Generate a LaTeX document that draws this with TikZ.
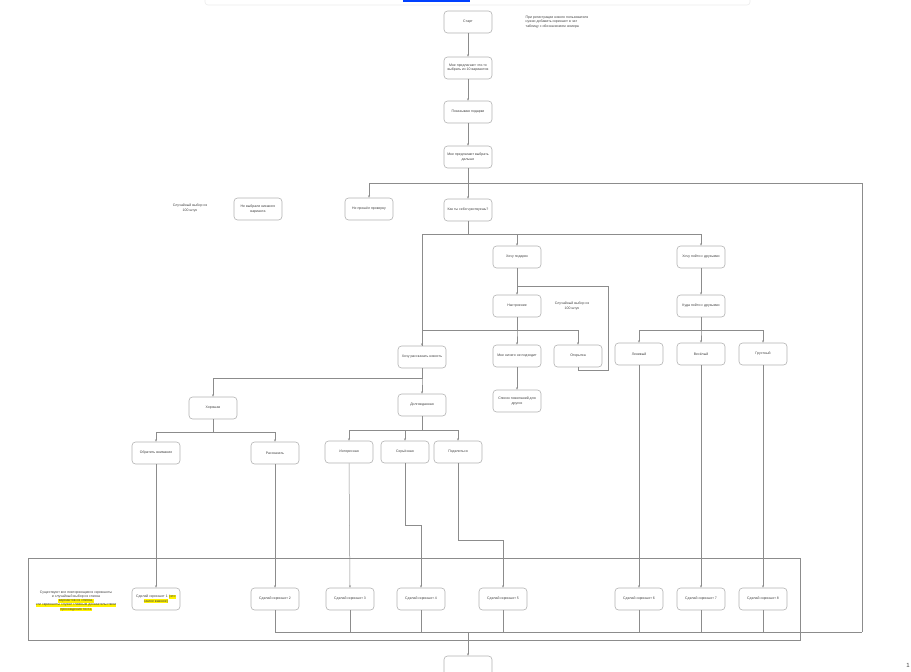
\documentclass[tikz,border=0pt]{standalone}
\usepackage{fontspec}
\setmainfont{Liberation Sans}
\usetikzlibrary{arrows.meta,positioning}
\newcommand{\hlmark}[1]{{\setlength{\fboxsep}{0.4pt}\colorbox{yellow}{#1}}}

\begin{document}
\begin{tikzpicture}[
  x=1pt, y=-1pt,
  >={Stealth[length=2.4pt,width=2pt]},
  every node/.style={font=\fontsize{3.5}{4.3}\selectfont, text=black!75},
  stepbox/.style={rounded corners=3.5pt, draw=black!30, line width=0.6pt, fill=white, align=center, minimum width=48pt, minimum height=22pt, inner sep=1pt},
  note/.style={align=center, inner sep=0pt},
  link/.style={draw=black!45, line width=0.5pt}
]
\useasboundingbox (0,0) rectangle (911,672);
\clip (0,0) rectangle (911,672);
% window edge from the screenshot
\draw[black!8, line width=0.6pt, rounded corners=3pt] (205,-4) -- (205,5) -- (750,5) -- (750,-4);
\fill[blue!75!cyan] (403,0) rectangle (470,2);
\node[note] (pg) at (908,665) {\fontsize{6}{7}\selectfont 1};

% main column
\node[stepbox] (start) at (468,22) {Старт};
\node[note, align=left] (topnote) at (557,22) {При регистрации нового пользователя\\нужно добавить скриншот в чат\\таблицу с обозначением номера};
\node[stepbox] (choose) at (468,68) {Мне предлагают что-то\\выбрать из 10 вариантов};
\node[stepbox] (gifts) at (468,112) {Показываю подарки};
\node[stepbox] (choose2) at (468,157) {Мне предлагают выбрать\\дальше};
\node[stepbox] (feel) at (468,210) {Как ты себя чувствуешь?};
\node[stepbox] (fail) at (369,209) {Не прошёл проверку};
\node[stepbox] (nopick) at (258,209) {Не выбрали никакого\\варианта};
\node[note] (rand1) at (190,208) {Случайный выбор из\\100 штук};

% second level
\node[stepbox] (present) at (517,257) {Хочу подарок};
\node[stepbox] (friends) at (701,257) {Хочу пойти с друзьями};
\node[stepbox] (mood) at (517,306) {Настроение};
\node[note] (rand2) at (572,306) {Случайный выбор из\\100 штук};
\node[stepbox] (where) at (701,306) {Куда пойти с друзьями};
\node[stepbox] (news) at (422,357) {Хочу рассказать новость};
\node[stepbox] (nothing) at (517,356) {Мне ничего не подходит};
\node[stepbox] (card) at (578,356) {Открытка};
\node[stepbox] (wishes) at (517,401) {Список пожеланий для\\других};
\node[stepbox] (lazy) at (639,354) {Ленивый};
\node[stepbox] (merry) at (701,354) {Весёлый};
\node[stepbox] (sad) at (763,354) {Грустный};

% news branch
\node[stepbox] (good) at (213,408) {Хорошая};
\node[stepbox] (long) at (422,405) {Долгожданная};
\node[stepbox] (attn) at (156,453) {Обратить внимание};
\node[stepbox] (tell) at (275,453) {Рассказать};
\node[stepbox] (fun) at (349,452) {Интересная};
\node[stepbox] (serious) at (405,452) {Серьёзная};
\node[stepbox] (share) at (458,452) {Поделиться};

% screenshots
\draw[black!45, line width=0.6pt] (28,558) rectangle (800,640);
\node[note] (shotnote) at (76,601) {Существуют все повторяющиеся скриншоты\\и случайный выбор из списка\\\hlmark{вариантов из списка,}\\\hlmark{эти скриншоты служат главным доказательством}\\\hlmark{прохождения теста}};
\node[stepbox] (shot1) at (156,599) {Сделай скриншот 1 \hlmark{(это}\\\hlmark{самое важное)}};
\node[stepbox] (shot2) at (275,599) {Сделай скриншот 2};
\node[stepbox] (shot3) at (350,599) {Сделай скриншот 3};
\node[stepbox] (shot4) at (421,599) {Сделай скриншот 4};
\node[stepbox] (shot5) at (503,599) {Сделай скриншот 5};
\node[stepbox] (shot6) at (639,599) {Сделай скриншот 6};
\node[stepbox] (shot7) at (701,599) {Сделай скриншот 7};
\node[stepbox] (shot8) at (763,599) {Сделай скриншот 8};
\node[stepbox] (finish) at (468,667) {};

\coordinate (railT) at (862,183);
\coordinate (railB) at (862,632);
\coordinate (loopc) at (608,370);
\coordinate (loopj) at (517,286);

% connectors
\draw[link,->] (start) -- (choose);
\draw[link,->] (choose) -- (gifts);
\draw[link,->] (gifts) -- (choose2);
\draw[link,->] (choose2) -- (feel);
\draw[link,->] (railT) -| (fail.north);
\draw[link] (railT) -- (railB);
\draw[link,->] (feel.south) -- ++(0,13) -| (present.north);
\draw[link,->] (feel.south) -- ++(0,13) -| (friends.north);
\draw[link,->] (feel.south) -- ++(0,13) -| (news.north);
\draw[link,->] (present) -- (mood);
\draw[link,->] (mood.south) -- ++(0,13) -| (nothing.north);
\draw[link,->] (mood.south) -- ++(0,13) -| (card.north);
\draw[link] (mood.south) -- ++(0,13) -| (news.north);
\draw[link] (card.south) |- (loopc) |- (loopj);
\draw[link,->] (nothing) -- (wishes);
\draw[link,->] (friends) -- (where);
\draw[link,->] (where.south) -- ++(0,13) -| (lazy.north);
\draw[link,->] (where.south) -- ++(0,13) -| (merry.north);
\draw[link,->] (where.south) -- ++(0,13) -| (sad.north);
\draw[link,->] (news.south) -- ++(0,10) -| (good.north);
\draw[link,->] (news.south) -- ++(0,10) -| (long.north);
\draw[link,->] (good.south) -- ++(0,13) -| (attn.north);
\draw[link,->] (good.south) -- ++(0,13) -| (tell.north);
\draw[link,->] (long.south) -- ++(0,14) -| (fun.north);
\draw[link,->] (long.south) -- ++(0,14) -| (serious.north);
\draw[link,->] (long.south) -- ++(0,14) -| (share.north);
\draw[link,->] (attn) -- (shot1);
\draw[link,->] (tell) -- (shot2);
\draw[link,->] (fun.south) -- (shot3.north);
\draw[link,->] (serious.south) -- ++(0,62) -| (shot4.north);
\draw[link,->] (share.south) -- ++(0,77) -| (shot5.north);
\draw[link,->] (lazy) -- (shot6);
\draw[link,->] (merry) -- (shot7);
\draw[link,->] (sad) -- (shot8);
\draw[link] (shot2.south) |- (railB);
\draw[link] (shot3.south) -- (shot3.south |- railB);
\draw[link] (shot4.south) -- (shot4.south |- railB);
\draw[link] (shot5.south) -- (shot5.south |- railB);
\draw[link] (shot6.south) -- (shot6.south |- railB);
\draw[link] (shot7.south) -- (shot7.south |- railB);
\draw[link] (shot8.south) -- (shot8.south |- railB);
\draw[link,->] (finish.north |- railB) -- (finish.north);
\end{tikzpicture}
\end{document}
